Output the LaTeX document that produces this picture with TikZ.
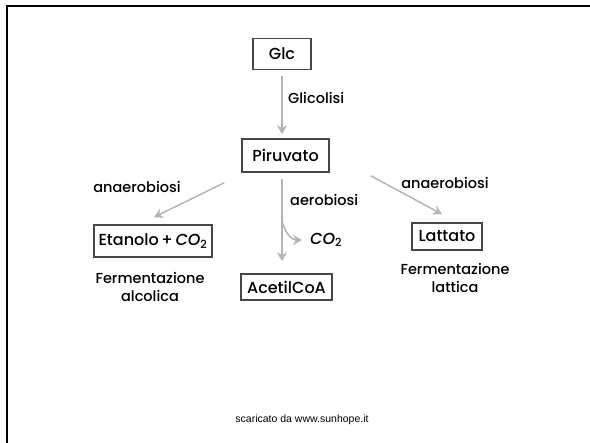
\documentclass[tikz,border=0pt]{standalone}
\usepackage{fontspec}
\setmainfont{Poppins Medium}[ItalicFont=Poppins Medium Italic]
\newfontfamily\footfont{Liberation Sans}
\usetikzlibrary{arrows.meta}
\definecolor{arrgray}{RGB}{180,180,180}
\definecolor{boxgray}{RGB}{70,70,70}

\begin{document}
\begin{tikzpicture}[x=1pt, y=-1pt,
  box/.style={draw=boxgray, line width=1.6pt, inner sep=0pt, font=\fontsize{16}{18}\selectfont},
  lbl/.style={inner sep=0pt, font=\fontsize{14.5}{18}\selectfont, align=center},
  arr/.style={draw=arrgray, line width=1.5pt, -{Stealth[length=9pt,width=10pt]}}]
\useasboundingbox (0,0) rectangle (590,443);
\draw[line width=2pt] (590,6) -- (7,6) -- (7,443);

    \node[box, minimum width=58pt, minimum height=31pt] (glc) at (282,54) {Glc};
    \node[box, minimum width=87pt, minimum height=33pt] (piruvato) at (285.5,155.5) {Piruvato};
    \node[box, minimum width=118pt, minimum height=32pt] (etanolo) at (153,241) {Etanolo\,+\,{\itshape CO}\textsubscript{2}};
    \node[box, minimum width=91pt, minimum height=26pt] (acetil) at (286.5,287) {AcetilCoA};
    \node[box, minimum width=70pt, minimum height=27pt] (lattato) at (447,236.5) {Lattato};

    \node[lbl, anchor=west] (glicolisi) at (288,98) {Glicolisi};
    \node[lbl] (anaersx) at (137,187) {anaerobiosi};
    \node[lbl, anchor=west] (aerobiosi) at (290,200) {aerobiosi};
    \node[lbl] (anaerdx) at (445,183) {anaerobiosi};
    \node[lbl, anchor=west, font=\fontsize{16}{18}\selectfont] (co2) at (310,240) {{\itshape CO}\textsubscript{2}};
    \node[lbl] (fermalc) at (150,287) {Fermentazione\\alcolica};
    \node[lbl] (fermlat) at (455,278) {Fermentazione\\lattica};
    \node[inner sep=0pt, font=\footfont\fontsize{10.5}{12}\selectfont] (sito) at (302,420) {scaricato da www.sunhope.it};

\draw[arr] ([yshift=-6pt]glc.south) -- ([xshift=-3.5pt,yshift=4pt]piruvato.north);
\draw[arr] ([xshift=-17pt,yshift=-10pt]piruvato.south west) -- ([xshift=1pt,yshift=7pt]etanolo.north);
\draw[arr] ([xshift=41pt,yshift=-3pt]piruvato.south east) -- ([xshift=-5pt,yshift=8pt]lattato.north);
\draw[arr] ([xshift=-3.5pt,yshift=-6pt]piruvato.south) -- ([xshift=-4.5pt,yshift=12pt]acetil.north) coordinate[pos=0.5] (fork);
\draw[arr] (fork) to[out=-80, in=180] ([xshift=-8pt]co2.west);
\end{tikzpicture}
\end{document}
